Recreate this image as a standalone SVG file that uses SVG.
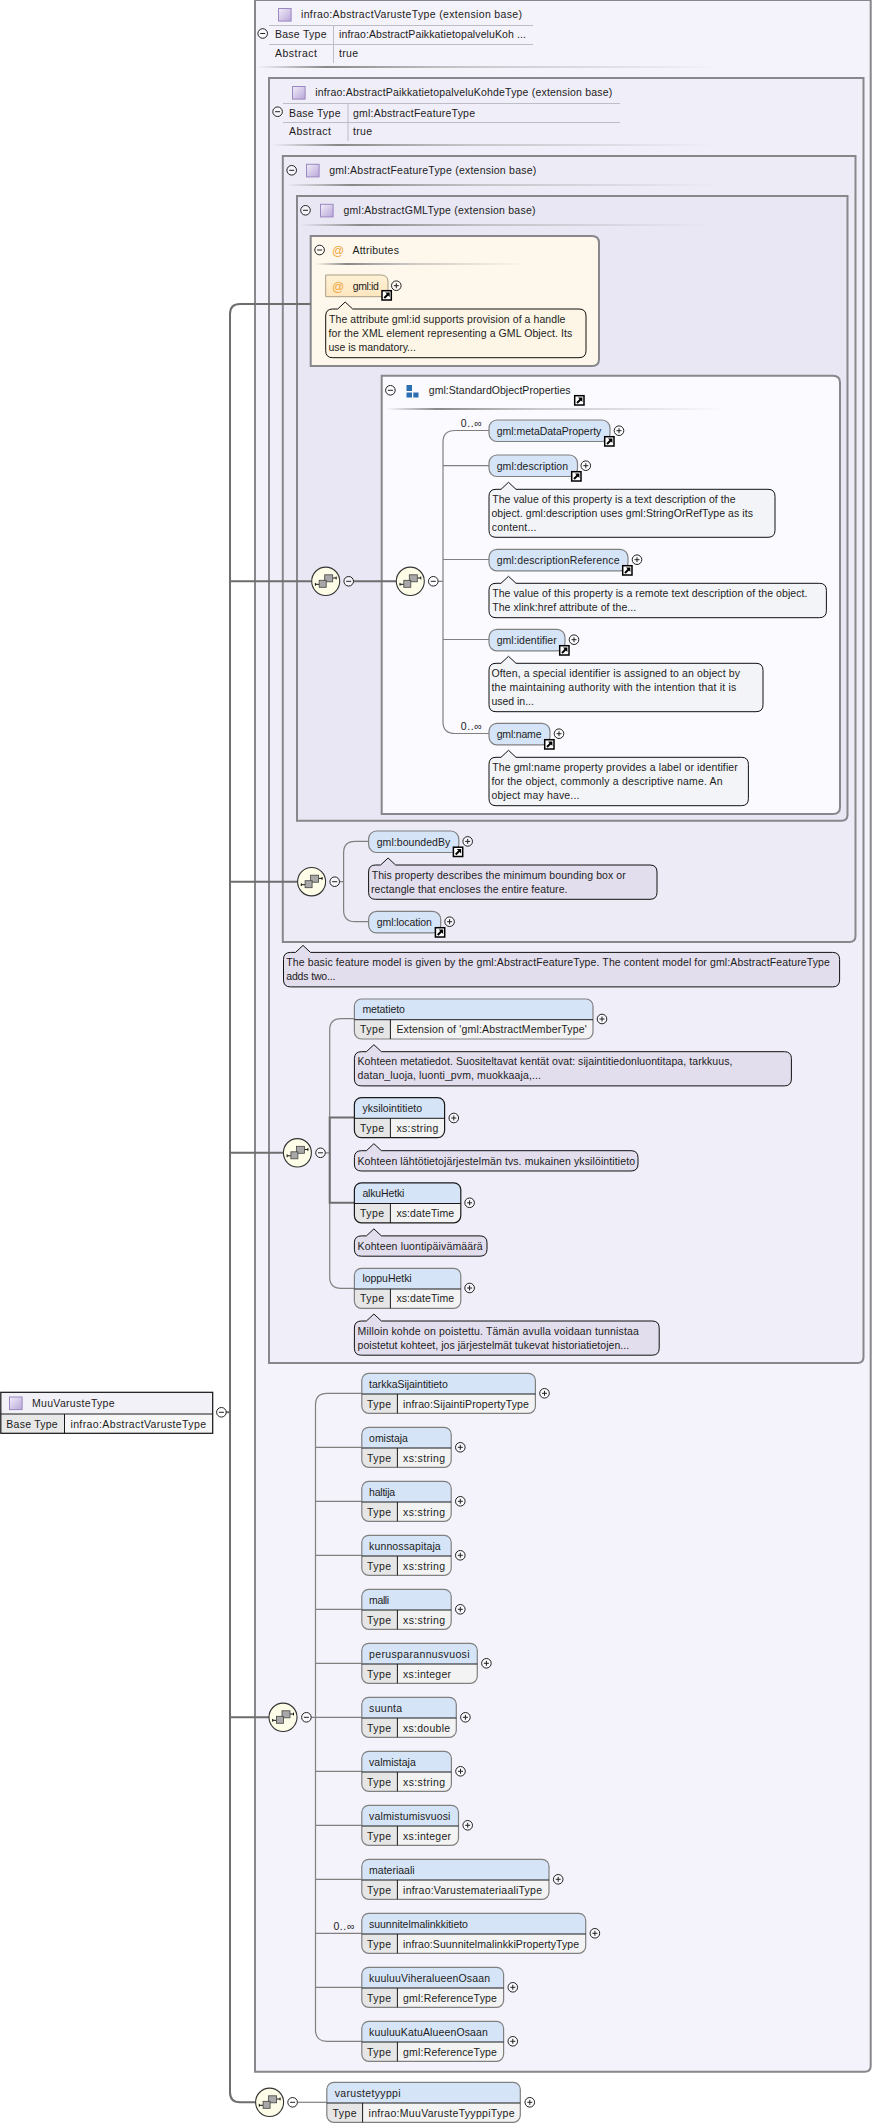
<svg xmlns="http://www.w3.org/2000/svg" width="873" height="2128" viewBox="0 0 873 2128">
<style>
text{font-family:"Liberation Sans",Arial,sans-serif;font-size:10.5px;fill:#1c1c1c}
.box{stroke:#87878c;stroke-width:2}
.c{fill:none;stroke:#808080;stroke-width:1.2}
.m{fill:none;stroke:#6e6e6e;stroke-width:2}
.tip{stroke:#111;stroke-width:1}
.t1{fill:#f3f4f8}.t2{fill:#e3deee}.t3{fill:#fdf6e6}
.hd{fill:#d6e4f7}.vl{fill:#f3f3f3}
.ol{fill:none;stroke:#808080;stroke-width:1.2}
.k{stroke:#1a1a1a}
.dv{fill:none;stroke:#1a1a1a;stroke-width:1}
.el{fill:#d6e4f7;stroke:#808080;stroke-width:1.2}
.tb{fill:none;stroke:#bdbdc4;stroke-width:1}
.at{fill:#f0a63c;font-size:12px;text-anchor:middle}
</style>
<defs>
<linearGradient id="sh"><stop offset="0" stop-color="#888" stop-opacity="0"/><stop offset=".15" stop-color="#888"/><stop offset=".45" stop-color="#aaa" stop-opacity=".6"/><stop offset="1" stop-color="#aaa" stop-opacity="0"/></linearGradient>
<linearGradient id="pu" x1="0" y1="0" x2="1" y2="1"><stop offset="0" stop-color="#f2eefa"/><stop offset="1" stop-color="#b8a6d8"/></linearGradient>
<linearGradient id="at" x1="0" y1="0" x2="0" y2="1"><stop offset="0" stop-color="#fff1d6"/><stop offset="1" stop-color="#fde6bf"/></linearGradient>
<g id="minus"><circle r="4.8" fill="#fff" fill-opacity=".5" stroke="#222"/><path d="M-2.5,0H2.5" stroke="#222"/></g>
<g id="plus"><circle r="4.8" fill="#fff" fill-opacity=".5" stroke="#222"/><path d="M-2.5,0H2.5M0,-2.5V2.5" stroke="#222"/></g>
<g id="link"><rect x="0.7" y="0.7" width="9.3" height="9.3" fill="#fff" stroke="#000" stroke-width="1.5"/><path d="M3,8L7,4" stroke="#000" stroke-width="2"/><path d="M4,2.6H8.4V7Z" fill="#000"/></g>
<g id="seq"><ellipse rx="14" ry="14.2" fill="#fdfde8" stroke="#333" stroke-width="1.1"/><path d="M-10.3,3H-6.5M7,-3.3H10.5M-10.3,1.6V4.4M10.5,-4.7V-1.9" stroke="#111" fill="none"/><rect x="-1" y="-6.5" width="8" height="7" fill="#a8a8a8" stroke="#444" stroke-width=".8"/><rect x="-6.5" y="-1" width="7" height="7" fill="#a8a8a8" stroke="#444" stroke-width=".8"/></g>
<rect id="ty" width="12.6" height="12.6" fill="url(#pu)" stroke="#9c88c0"/>
<path id="tl" d="M0,20.7H35.6V40H7Q0,40 0,33Z" fill="#e6e6e6"/>
</defs>

<rect width="873" height="2128" fill="#fff"/>

<g id="containers">
<path id="box-AbstractVarusteType" class="box" fill="#f4f2fa" d="M255,0H870.7V2065.7Q870.7,2071.7 864.7,2071.7H255Z"/>
<path id="box-AbstractPaikkatietopalveluKohdeType" class="box" fill="#f0eef8" d="M269,78H863.5V1357Q863.5,1363 857.5,1363H269Z"/>
<path id="box-AbstractFeatureType" class="box" fill="#ecebf6" d="M282.8,156H855.5V936Q855.5,942 849.5,942H282.8Z"/>
<path id="box-AbstractGMLType" class="box" fill="#e9e7f4" d="M297,196H847.5V814.7Q847.5,820.7 841.5,820.7H297Z"/>
<path id="box-Attributes" class="box" fill="#fef8ec" d="M310.7,236H592Q599,236 599,243V359Q599,366 592,366H310.7Z"/>
<path id="box-StandardObjectProperties" class="box" fill="#fafaff" d="M381.7,375.7H833Q840,375.7 840,382.7V807Q840,814 833,814H381.7Z"/>
</g>

<g id="connectors">
<path class="m" d="M310.7,304H240Q230,304 230,314V2092Q230,2102.3 240,2102.3H255.6M226,1412.3H230M230,581.3H311.7M353.6,581.3H396.3M230,881.7H297.6M230,1152.8H283.4M230,1717.3H269"/>
<path class="c" d="M438,581.3H443M489,430.5H455Q443,430.5 443,442V722Q443,733.5 455,733.5H489M443,465.7H489M443,559.5H489M443,639.5H489"/>
<path class="c" d="M339.6,881.7H343.6M368.6,841.4H355Q343.6,841.4 343.6,853V910Q343.6,921.7 355,921.7H368.6"/>
<path class="c" d="M325.4,1152.8H329.7M354.4,1018.6H341Q329.7,1018.6 329.7,1030V1277Q329.7,1288.3 341,1288.3H354.4"/>
<path class="m" d="M354.4,1117.6H329.7V1202.8H354.4"/>
<path class="c" d="M311.3,1717.3H361.8M361.8,1393.3H327Q315.5,1393.3 315.5,1405V2030Q315.5,2041.3 327,2041.3H361.8M315.5,1447.3H361.8M315.5,1501.3H361.8M315.5,1555.3H361.8M315.5,1609.3H361.8M315.5,1663.3H361.8M315.5,1771.3H361.8M315.5,1825.3H361.8M315.5,1879.3H361.8M315.5,1933.3H361.8M315.5,1987.3H361.8"/>
<path class="c" d="M297.6,2102.3H326.8"/>
</g>

<g id="hdr-AbstractVarusteType">
<use href="#ty" x="278.5" y="8.5"/>
<text x="301" y="17.7" textLength="221">infrao:AbstractVarusteType (extension base)</text>
<path class="tb" d="M269,25.5H533M269,44.5H533M333.5,25V63"/>
<use href="#minus" x="262.7" y="33.5"/>
<text x="275" y="38" textLength="51.5">Base Type</text>
<text x="339" y="38" textLength="187">infrao:AbstractPaikkatietopalveluKoh ...</text>
<text x="275" y="57" textLength="42">Abstract</text>
<text x="339" y="57" textLength="19">true</text>
<rect x="257" y="66" width="464" height="2" fill="url(#sh)"/>
</g>
<g id="hdr-AbstractPaikkatietopalveluKohdeType">
<use href="#ty" x="292.5" y="86.5"/>
<text x="315.2" y="96" textLength="297">infrao:AbstractPaikkatietopalveluKohdeType (extension base)</text>
<path class="tb" d="M283,103.5H620M283,122.5H620M348,103V141"/>
<use href="#minus" x="277.6" y="111.7"/>
<text x="289" y="116.5" textLength="51.5">Base Type</text>
<text x="353" y="116.5" textLength="122">gml:AbstractFeatureType</text>
<text x="289" y="135" textLength="42">Abstract</text>
<text x="353" y="135" textLength="19">true</text>
<rect x="272" y="144" width="445" height="2" fill="url(#sh)"/>
</g>
<g id="hdr-AbstractFeatureType">
<use href="#minus" x="291.7" y="170.3"/>
<use href="#ty" x="306.5" y="164.3"/>
<text x="329.3" y="174" textLength="207">gml:AbstractFeatureType (extension base)</text>
<rect x="286.5" y="184" width="430" height="2" fill="url(#sh)"/>
</g>
<g id="hdr-AbstractGMLType">
<use href="#minus" x="305.5" y="210.3"/>
<use href="#ty" x="320.5" y="204.3"/>
<text x="343.5" y="214" textLength="192">gml:AbstractGMLType (extension base)</text>
<rect x="300" y="224" width="413" height="2" fill="url(#sh)"/>
</g>
<g id="hdr-Attributes">
<use href="#minus" x="319.6" y="250"/>
<text class="at" x="338" y="254.5">@</text>
<text x="352.4" y="254" textLength="46.5">Attributes</text>
<rect x="315" y="263" width="214" height="2" fill="url(#sh)"/>
</g>
<g id="attr-gml-id">
<path fill="url(#at)" stroke="#a89d84" d="M325.7,275H381Q388,275 388,282V296.7H325.7Z"/>
<text class="at" x="338" y="290.5">@</text>
<text x="352.8" y="290" textLength="26">gml:id</text>
<use href="#link" x="381.3" y="290"/>
<use href="#plus" x="396.3" y="285.7"/>
<path class="tip t3" transform="translate(325.7,309)" d="M7,0H12L19.5,-7L27,0H253.3Q260.3,0 260.3,7V41.7Q260.3,48.7 253.3,48.7H7Q0,48.7 0,41.7V7Q0,0 7,0Z"/>
<text x="329" y="323" textLength="236.4">The attribute gml:id supports provision of a handle</text>
<text x="328.5" y="337" textLength="243.8">for the XML element representing a GML Object. Its</text>
<text x="328.5" y="351" textLength="87.3">use is mandatory...</text>
</g>
<g id="hdr-StandardObjectProperties">
<use href="#minus" x="390.4" y="390.3"/>
<path fill="#2c6fb0" d="M406.5,385H412V391H406.5ZM406.5,392.5H412V397.5H406.5ZM413.3,392.5H418.5V397.5H413.3Z"/>
<text x="428.8" y="394" textLength="141.8">gml:StandardObjectProperties</text>
<use href="#link" x="574" y="395"/>
<rect x="386" y="408" width="341" height="2" fill="url(#sh)"/>
</g>

<g id="seq-1"><use href="#seq" x="325.7" y="581.3"/><use href="#minus" x="348.7" y="581.3"/></g>
<g id="seq-2"><use href="#seq" x="410.3" y="581.3"/><use href="#minus" x="433.3" y="581.3"/></g>
<g id="seq-3"><use href="#seq" x="311.6" y="881.7"/><use href="#minus" x="334.7" y="881.7"/></g>
<g id="seq-4"><use href="#seq" x="297.4" y="1152.8"/><use href="#minus" x="320.5" y="1152.8"/></g>
<g id="seq-5"><use href="#seq" x="283" y="1717.3"/><use href="#minus" x="306.4" y="1717.3"/></g>
<g id="seq-6"><use href="#seq" x="269.6" y="2102.3"/><use href="#minus" x="292.6" y="2102.3"/></g>

<g id="el-metaDataProperty">
<text x="460.7" y="426.7" textLength="21">0..∞</text>
<rect class="el" x="489" y="420" width="121" height="21.5" rx="8"/>
<text x="496.7" y="434.7" textLength="104.6">gml:metaDataProperty</text>
<use href="#link" x="604" y="436"/><use href="#plus" x="619" y="430.7"/>
</g>
<g id="el-description">
<rect class="el" x="489" y="455" width="88.5" height="21.5" rx="8"/>
<text x="496.7" y="469.7" textLength="71.3">gml:description</text>
<use href="#link" x="571" y="471"/><use href="#plus" x="585.8" y="465.7"/>
<path class="tip t1" transform="translate(489,489.3)" d="M7,0H12L19.5,-7L27,0H279Q286,0 286,7V41Q286,48 279,48H7Q0,48 0,41V7Q0,0 7,0Z"/>
<text x="492.2" y="502.7" textLength="243.3">The value of this property is a text description of the</text>
<text x="491.4" y="516.7" textLength="261.5">object. gml:description uses gml:StringOrRefType as its</text>
<text x="491.8" y="530.7" textLength="44.7">content...</text>
</g>
<g id="el-descriptionReference">
<rect class="el" x="489" y="549.3" width="139" height="21.5" rx="8"/>
<text x="496.7" y="564" textLength="122.8">gml:descriptionReference</text>
<use href="#link" x="622" y="565"/><use href="#plus" x="637" y="559.7"/>
<path class="tip t1" transform="translate(489,583.3)" d="M7,0H12L19.5,-7L27,0H330.4Q337.4,0 337.4,7V27.4Q337.4,34.4 330.4,34.4H7Q0,34.4 0,27.4V7Q0,0 7,0Z"/>
<text x="492.2" y="596.7" textLength="315.3">The value of this property is a remote text description of the object.</text>
<text x="492.2" y="610.7" textLength="144">The xlink:href attribute of the...</text>
</g>
<g id="el-identifier">
<rect class="el" x="489" y="629.3" width="76" height="21.5" rx="8"/>
<text x="496.7" y="644" textLength="60">gml:identifier</text>
<use href="#link" x="559" y="645"/><use href="#plus" x="574" y="639.7"/>
<path class="tip t1" transform="translate(489,663.3)" d="M7,0H12L19.5,-7L27,0H267Q274,0 274,7V41.4Q274,48.4 267,48.4H7Q0,48.4 0,41.4V7Q0,0 7,0Z"/>
<text x="491.4" y="676.7" textLength="248.6">Often, a special identifier is assigned to an object by</text>
<text x="491.4" y="690.7" textLength="244.8">the maintaining authority with the intention that it is</text>
<text x="491.4" y="704.7" textLength="42.5">used in...</text>
</g>
<g id="el-name">
<text x="460.7" y="729.7" textLength="21">0..∞</text>
<rect class="el" x="489" y="723.3" width="61" height="21.5" rx="8"/>
<text x="496.7" y="738" textLength="44.8">gml:name</text>
<use href="#link" x="544" y="739"/><use href="#plus" x="559" y="733.7"/>
<path class="tip t1" transform="translate(489,757.3)" d="M7,0H12L19.5,-7L27,0H252.4Q259.4,0 259.4,7V41.4Q259.4,48.4 252.4,48.4H7Q0,48.4 0,41.4V7Q0,0 7,0Z"/>
<text x="492.2" y="770.7" textLength="245.6">The gml:name property provides a label or identifier</text>
<text x="491.4" y="784.7" textLength="231.2">for the object, commonly a descriptive name. An</text>
<text x="491.4" y="798.7" textLength="88">object may have...</text>
</g>
<g id="el-boundedBy">
<rect class="el" x="368.6" y="831" width="90.2" height="21.5" rx="8"/>
<text x="376.7" y="845.5" textLength="73.6">gml:boundedBy</text>
<use href="#link" x="452.7" y="846.5"/><use href="#plus" x="467.7" y="841.4"/>
<path class="tip t2" transform="translate(368.6,865)" d="M7,0H12L19.5,-7L27,0H281.4Q288.4,0 288.4,7V27.3Q288.4,34.3 281.4,34.3H7Q0,34.3 0,27.3V7Q0,0 7,0Z"/>
<text x="371.7" y="879" textLength="254">This property describes the minimum bounding box or</text>
<text x="371" y="893" textLength="196.5">rectangle that encloses the entire feature.</text>
</g>
<g id="el-location">
<rect class="el" x="368.6" y="911.4" width="72.1" height="21.5" rx="8"/>
<text x="376.7" y="926" textLength="55.2">gml:location</text>
<use href="#link" x="434.7" y="927"/><use href="#plus" x="449.6" y="921.7"/>
</g>
<g id="note-AbstractFeatureType">
<path class="tip t2" transform="translate(283.5,952.4)" d="M7,0H12L19.5,-7L27,0H549.1Q556.1,0 556.1,7V27.5Q556.1,34.5 549.1,34.5H7Q0,34.5 0,27.5V7Q0,0 7,0Z"/>
<text x="286.2" y="966.2" textLength="543.7">The basic feature model is given by the gml:AbstractFeatureType. The content model for gml:AbstractFeatureType</text>
<text x="286.2" y="980.3" textLength="49.3">adds two...</text>
</g>

<g id="el-metatieto">
<g transform="translate(354.4,999)">
<path class="hd" d="M0,20.7V7Q0,0 7,0H231.6Q238.6,0 238.6,7V20.7Z"/><use href="#tl"/><path class="vl" d="M35.6,20.7H238.6V33Q238.6,40 231.6,40H35.6Z"/>
<rect class="ol" width="238.6" height="40" rx="7"/><path class="dv" d="M0,20.7H238.6M36,20.7V40"/>
<text x="8" y="14" textLength="42.4">metatieto</text><text x="5.7" y="34" textLength="23.9">Type</text><text x="42" y="34" textLength="190.4">Extension of 'gml:AbstractMemberType'</text>
</g>
<use href="#plus" x="602" y="1019"/>
<path class="tip t2" transform="translate(354.4,1051.7)" d="M7,0H12L19.5,-7L27,0H430Q437,0 437,7V27.2Q437,34.2 430,34.2H7Q0,34.2 0,27.2V7Q0,0 7,0Z"/>
<text x="357.5" y="1065.2" textLength="374.9">Kohteen metatiedot. Suositeltavat kentät ovat: sijaintitiedonluontitapa, tarkkuus,</text>
<text x="357.5" y="1079.3" textLength="183.4">datan_luoja, luonti_pvm, muokkaaja,...</text>
</g>
<g id="el-yksilointitieto">
<g transform="translate(354.4,1097.6)">
<path class="hd" d="M0,20.7V7Q0,0 7,0H83.2Q90.2,0 90.2,7V20.7Z"/><use href="#tl"/><path class="vl" d="M35.6,20.7H90.2V33Q90.2,40 83.2,40H35.6Z"/>
<rect class="ol k" width="90.2" height="40" rx="7"/><path class="dv" d="M0,20.7H90.2M36,20.7V40"/>
<text x="8" y="14" textLength="59.7">yksilointitieto</text><text x="5.7" y="34.5" textLength="23.9">Type</text><text x="42" y="34.5" textLength="42">xs:string</text>
</g>
<use href="#plus" x="453.8" y="1118"/>
<path class="tip t2" transform="translate(354.4,1150.7)" d="M7,0H12L19.5,-7L27,0H276.6Q283.6,0 283.6,7V13.3Q283.6,20.3 276.6,20.3H7Q0,20.3 0,13.3V7Q0,0 7,0Z"/>
<text x="357.5" y="1164.5" textLength="277.5">Kohteen lähtötietojärjestelmän tvs. mukainen yksilöintitieto</text>
</g>
<g id="el-alkuHetki">
<g transform="translate(354.4,1182.8)">
<path class="hd" d="M0,20.7V7Q0,0 7,0H99.4Q106.4,0 106.4,7V20.7Z"/><use href="#tl"/><path class="vl" d="M35.6,20.7H106.4V33Q106.4,40 99.4,40H35.6Z"/>
<rect class="ol k" width="106.4" height="40" rx="7"/><path class="dv" d="M0,20.7H106.4M36,20.7V40"/>
<text x="8" y="14.4" textLength="42">alkuHetki</text><text x="5.7" y="34.6" textLength="23.9">Type</text><text x="42" y="34.6" textLength="57.8">xs:dateTime</text>
</g>
<use href="#plus" x="469.6" y="1202.8"/>
<path class="tip t2" transform="translate(354.4,1235.9)" d="M7,0H12L19.5,-7L27,0H125.6Q132.6,0 132.6,7V13.3Q132.6,20.3 125.6,20.3H7Q0,20.3 0,13.3V7Q0,0 7,0Z"/>
<text x="357.5" y="1249.7" textLength="125.2">Kohteen luontipäivämäärä</text>
</g>
<g id="el-loppuHetki">
<g transform="translate(354.4,1268.3)">
<path class="hd" d="M0,20.7V7Q0,0 7,0H99.4Q106.4,0 106.4,7V20.7Z"/><use href="#tl"/><path class="vl" d="M35.6,20.7H106.4V33Q106.4,40 99.4,40H35.6Z"/>
<rect class="ol" width="106.4" height="40" rx="7"/><path class="dv" d="M0,20.7H106.4M36,20.7V40"/>
<text x="8" y="14.1" textLength="49.3">loppuHetki</text><text x="5.7" y="34.1" textLength="23.9">Type</text><text x="42" y="34.1" textLength="57.8">xs:dateTime</text>
</g>
<use href="#plus" x="469.6" y="1288"/>
<path class="tip t2" transform="translate(354.4,1321)" d="M7,0H12L19.5,-7L27,0H297.8Q304.8,0 304.8,7V27.2Q304.8,34.2 297.8,34.2H7Q0,34.2 0,27.2V7Q0,0 7,0Z"/>
<text x="357.5" y="1334.5" textLength="281.3">Milloin kohde on poistettu. Tämän avulla voidaan tunnistaa</text>
<text x="357.5" y="1348.6" textLength="271.7">poistetut kohteet, jos järjestelmät tukevat historiatietojen...</text>
</g>

<g id="root-MuuVarusteType">
<rect x="0.8" y="1392.3" width="211.9" height="41" fill="#f3f1f8"/>
<rect x="0.8" y="1414" width="63.7" height="19.3" fill="#e8e8e8"/>
<rect x="64.5" y="1414" width="148.2" height="19.3" fill="#f6f6f6"/>
<rect x="0.8" y="1392.3" width="211.9" height="41" fill="none" stroke="#111" stroke-width="1.2"/>
<path class="dv" d="M0.8,1414H212.7M64.5,1414V1433.3"/>
<use href="#ty" x="9.5" y="1397"/>
<text x="32" y="1406.7" textLength="82.6">MuuVarusteType</text>
<text x="6.3" y="1427.7" textLength="51.4">Base Type</text>
<text x="70.4" y="1427.7" textLength="135.6">infrao:AbstractVarusteType</text>
<use href="#minus" x="221.4" y="1412.3"/>
</g>

<g id="el-tarkkaSijaintitieto" transform="translate(361.8,1373.3)">
<path class="hd" d="M0,20.7V7Q0,0 7,0H166.6Q173.6,0 173.6,7V20.7Z"/><use href="#tl"/><path class="vl" d="M35.6,20.7H173.6V33Q173.6,40 166.6,40H35.6Z"/>
<rect class="ol" width="173.6" height="40" rx="7"/><path class="dv" d="M0,20.7H173.6M35.6,20.7V40"/>
<text x="7.3" y="14.6" textLength="78.7">tarkkaSijaintitieto</text><text x="5.3" y="34.3" textLength="23.9">Type</text><text x="41.3" y="34.3" textLength="125.7">infrao:SijaintiPropertyType</text>
<use href="#plus" x="182.7" y="20"/>
</g>
<g id="el-omistaja" transform="translate(361.8,1427.3)">
<path class="hd" d="M0,20.7V7Q0,0 7,0H82.4Q89.4,0 89.4,7V20.7Z"/><use href="#tl"/><path class="vl" d="M35.6,20.7H89.4V33Q89.4,40 82.4,40H35.6Z"/>
<rect class="ol" width="89.4" height="40" rx="7"/><path class="dv" d="M0,20.7H89.4M35.6,20.7V40"/>
<text x="7.3" y="14.6" textLength="38.8">omistaja</text><text x="5.3" y="34.3" textLength="23.9">Type</text><text x="41.3" y="34.3" textLength="42">xs:string</text>
<use href="#plus" x="98.5" y="20"/>
</g>
<g id="el-haltija" transform="translate(361.8,1481.3)">
<path class="hd" d="M0,20.7V7Q0,0 7,0H82.4Q89.4,0 89.4,7V20.7Z"/><use href="#tl"/><path class="vl" d="M35.6,20.7H89.4V33Q89.4,40 82.4,40H35.6Z"/>
<rect class="ol" width="89.4" height="40" rx="7"/><path class="dv" d="M0,20.7H89.4M35.6,20.7V40"/>
<text x="7.3" y="14.6" textLength="26">haltija</text><text x="5.3" y="34.3" textLength="23.9">Type</text><text x="41.3" y="34.3" textLength="42">xs:string</text>
<use href="#plus" x="98.5" y="20"/>
</g>
<g id="el-kunnossapitaja" transform="translate(361.8,1535.3)">
<path class="hd" d="M0,20.7V7Q0,0 7,0H82.4Q89.4,0 89.4,7V20.7Z"/><use href="#tl"/><path class="vl" d="M35.6,20.7H89.4V33Q89.4,40 82.4,40H35.6Z"/>
<rect class="ol" width="89.4" height="40" rx="7"/><path class="dv" d="M0,20.7H89.4M35.6,20.7V40"/>
<text x="7.3" y="14.6" textLength="71.6">kunnossapitaja</text><text x="5.3" y="34.3" textLength="23.9">Type</text><text x="41.3" y="34.3" textLength="42">xs:string</text>
<use href="#plus" x="98.5" y="20"/>
</g>
<g id="el-malli" transform="translate(361.8,1589.3)">
<path class="hd" d="M0,20.7V7Q0,0 7,0H82.4Q89.4,0 89.4,7V20.7Z"/><use href="#tl"/><path class="vl" d="M35.6,20.7H89.4V33Q89.4,40 82.4,40H35.6Z"/>
<rect class="ol" width="89.4" height="40" rx="7"/><path class="dv" d="M0,20.7H89.4M35.6,20.7V40"/>
<text x="7.3" y="14.6" textLength="20">malli</text><text x="5.3" y="34.3" textLength="23.9">Type</text><text x="41.3" y="34.3" textLength="42">xs:string</text>
<use href="#plus" x="98.5" y="20"/>
</g>
<g id="el-perusparannusvuosi" transform="translate(361.8,1643.3)">
<path class="hd" d="M0,20.7V7Q0,0 7,0H108.5Q115.5,0 115.5,7V20.7Z"/><use href="#tl"/><path class="vl" d="M35.6,20.7H115.5V33Q115.5,40 108.5,40H35.6Z"/>
<rect class="ol" width="115.5" height="40" rx="7"/><path class="dv" d="M0,20.7H115.5M35.6,20.7V40"/>
<text x="7.3" y="14.6" textLength="100.4">perusparannusvuosi</text><text x="5.3" y="34.3" textLength="23.9">Type</text><text x="41.3" y="34.3" textLength="48">xs:integer</text>
<use href="#plus" x="124.6" y="20"/>
</g>
<g id="el-suunta" transform="translate(361.8,1697.3)">
<path class="hd" d="M0,20.7V7Q0,0 7,0H87.5Q94.5,0 94.5,7V20.7Z"/><use href="#tl"/><path class="vl" d="M35.6,20.7H94.5V33Q94.5,40 87.5,40H35.6Z"/>
<rect class="ol" width="94.5" height="40" rx="7"/><path class="dv" d="M0,20.7H94.5M35.6,20.7V40"/>
<text x="7.3" y="14.6" textLength="33">suunta</text><text x="5.3" y="34.3" textLength="23.9">Type</text><text x="41.3" y="34.3" textLength="47">xs:double</text>
<use href="#plus" x="103.6" y="20"/>
</g>
<g id="el-valmistaja" transform="translate(361.8,1751.3)">
<path class="hd" d="M0,20.7V7Q0,0 7,0H82.6Q89.6,0 89.6,7V20.7Z"/><use href="#tl"/><path class="vl" d="M35.6,20.7H89.6V33Q89.6,40 82.6,40H35.6Z"/>
<rect class="ol" width="89.6" height="40" rx="7"/><path class="dv" d="M0,20.7H89.6M35.6,20.7V40"/>
<text x="7.3" y="14.6" textLength="46.7">valmistaja</text><text x="5.3" y="34.3" textLength="23.9">Type</text><text x="41.3" y="34.3" textLength="42">xs:string</text>
<use href="#plus" x="98.7" y="20"/>
</g>
<g id="el-valmistumisvuosi" transform="translate(361.8,1805.3)">
<path class="hd" d="M0,20.7V7Q0,0 7,0H89.7Q96.7,0 96.7,7V20.7Z"/><use href="#tl"/><path class="vl" d="M35.6,20.7H96.7V33Q96.7,40 89.7,40H35.6Z"/>
<rect class="ol" width="96.7" height="40" rx="7"/><path class="dv" d="M0,20.7H96.7M35.6,20.7V40"/>
<text x="7.3" y="14.6" textLength="81.3">valmistumisvuosi</text><text x="5.3" y="34.3" textLength="23.9">Type</text><text x="41.3" y="34.3" textLength="48">xs:integer</text>
<use href="#plus" x="105.9" y="20"/>
</g>
<g id="el-materiaali" transform="translate(361.8,1859.3)">
<path class="hd" d="M0,20.7V7Q0,0 7,0H180.2Q187.2,0 187.2,7V20.7Z"/><use href="#tl"/><path class="vl" d="M35.6,20.7H187.2V33Q187.2,40 180.2,40H35.6Z"/>
<rect class="ol" width="187.2" height="40" rx="7"/><path class="dv" d="M0,20.7H187.2M35.6,20.7V40"/>
<text x="7.3" y="14.6" textLength="45.5">materiaali</text><text x="5.3" y="34.3" textLength="23.9">Type</text><text x="41.3" y="34.3" textLength="138.9">infrao:VarustemateriaaliType</text>
<use href="#plus" x="196.4" y="20"/>
</g>
<g id="el-suunnitelmalinkkitieto">
<text x="333.4" y="1930" textLength="21">0..∞</text>
<g transform="translate(361.8,1913.3)">
<path class="hd" d="M0,20.7V7Q0,0 7,0H216.9Q223.9,0 223.9,7V20.7Z"/><use href="#tl"/><path class="vl" d="M35.6,20.7H223.9V33Q223.9,40 216.9,40H35.6Z"/>
<rect class="ol" width="223.9" height="40" rx="7"/><path class="dv" d="M0,20.7H223.9M35.6,20.7V40"/>
<text x="7.3" y="14.6" textLength="98.8">suunnitelmalinkkitieto</text><text x="5.3" y="34.3" textLength="23.9">Type</text><text x="41.3" y="34.3" textLength="176">infrao:SuunnitelmalinkkiPropertyType</text>
<use href="#plus" x="233.1" y="20"/>
</g>
</g>
<g id="el-kuuluuViheralueenOsaan" transform="translate(361.8,1967.3)">
<path class="hd" d="M0,20.7V7Q0,0 7,0H134.8Q141.8,0 141.8,7V20.7Z"/><use href="#tl"/><path class="vl" d="M35.6,20.7H141.8V33Q141.8,40 134.8,40H35.6Z"/>
<rect class="ol" width="141.8" height="40" rx="7"/><path class="dv" d="M0,20.7H141.8M35.6,20.7V40"/>
<text x="7.3" y="14.6" textLength="121">kuuluuViheralueenOsaan</text><text x="5.3" y="34.3" textLength="23.9">Type</text><text x="41.3" y="34.3" textLength="93.8">gml:ReferenceType</text>
<use href="#plus" x="151" y="20"/>
</g>
<g id="el-kuuluuKatuAlueenOsaan" transform="translate(361.8,2021.3)">
<path class="hd" d="M0,20.7V7Q0,0 7,0H134.8Q141.8,0 141.8,7V20.7Z"/><use href="#tl"/><path class="vl" d="M35.6,20.7H141.8V33Q141.8,40 134.8,40H35.6Z"/>
<rect class="ol" width="141.8" height="40" rx="7"/><path class="dv" d="M0,20.7H141.8M35.6,20.7V40"/>
<text x="7.3" y="14.6" textLength="118.8">kuuluuKatuAlueenOsaan</text><text x="5.3" y="34.3" textLength="23.9">Type</text><text x="41.3" y="34.3" textLength="93.8">gml:ReferenceType</text>
<use href="#plus" x="151" y="20"/>
</g>
<g id="el-varustetyyppi" transform="translate(326.8,2082.3)">
<path class="hd" d="M0,20.7V7Q0,0 7,0H186.5Q193.5,0 193.5,7V20.7Z"/><use href="#tl"/><path class="vl" d="M35.6,20.7H193.5V33Q193.5,40 186.5,40H35.6Z"/>
<rect class="ol" width="193.5" height="40" rx="7"/><path class="dv" d="M0,20.7H193.5M35.8,20.7V40"/>
<text x="7.9" y="14.6" textLength="65.9">varustetyyppi</text><text x="5.8" y="34.3" textLength="23.9">Type</text><text x="41.7" y="34.3" textLength="146">infrao:MuuVarusteTyyppiType</text>
<use href="#plus" x="203" y="20"/>
</g>
</svg>
